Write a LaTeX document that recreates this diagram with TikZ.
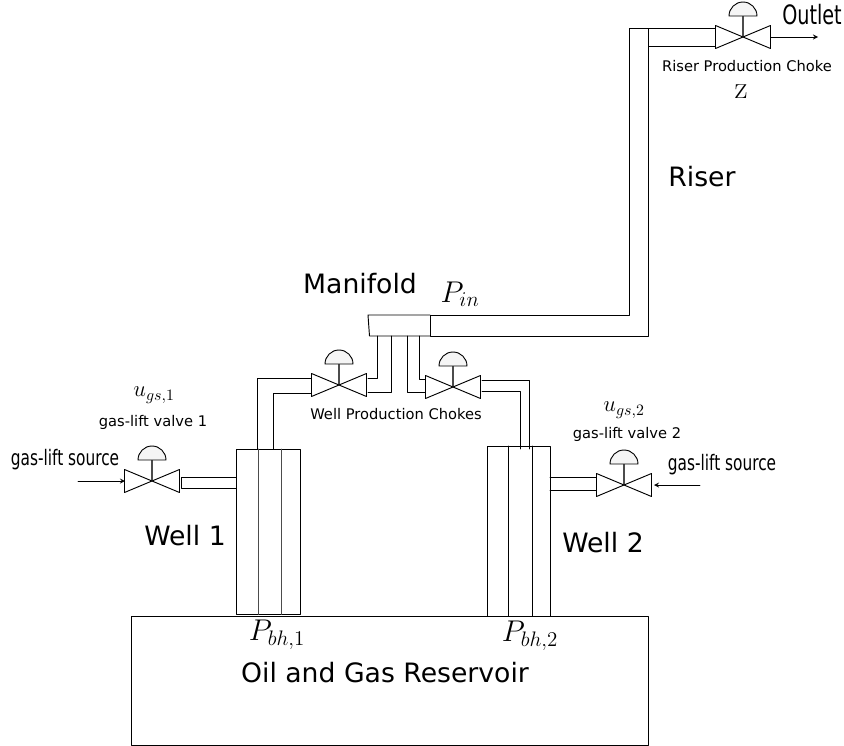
\documentclass[tikz,border=0pt]{standalone}
\usepackage{fix-cm}
\usepackage[no-math]{fontspec}
\setmainfont{DejaVu Sans}
\newfontfamily\narrowfont[FakeStretch=0.72]{DejaVu Sans}
\newcommand{\bigtext}{\fontsize{20}{24}\selectfont}
\newcommand{\midtext}{\narrowfont\fontsize{16}{19}\selectfont}
\newcommand{\smalltext}{\fontsize{11}{13}\selectfont}
\newcommand{\mathbig}{\fontsize{22.5}{27}\selectfont}
\newcommand{\mathmid}{\fontsize{17}{20}\selectfont}
\tikzset{
	pipe/.style={line width=.7pt},
	thinpipe/.style={line width=.65pt},
	dome/.style={line width=.7pt, fill=black!4},
	stem/.style={line width=.8pt, black!70},
	feed/.style={line width=.7pt, ->, >=stealth},
}
\begin{document}
\begin{tikzpicture}[x=.75pt, y=-.75pt, line join=round, line cap=round]
		\useasboundingbox (0,0) rectangle (844,746);
		\def\vw{27.5}
		\def\vh{11.5}
		\def\dr{14}
		\path (629,28) coordinate (RA)
		(648,46) coordinate (RB)
		(648,28) coordinate (RC)
		(715,28) coordinate (RD)
		(715,46) coordinate (RE)
		(629,315) coordinate (RF)
		(648,336) coordinate (RG)
		(368,315) coordinate (MA)
		(430,315) coordinate (MB)
		(430,336) coordinate (MC)
		(369.5,336) coordinate (MD)
		(771,37) coordinate (OA)
		(818,37) coordinate (OB)
		;
		% riser and manifold
		\draw[pipe] (RD)--(RC)--(RB)--(RE);
		\draw[pipe] (RC)--(RA)--(RF)--(MB)--(MC)--(RG)--(RB);
		\draw[pipe] (MB)--(MA)--(MD)--(MC);
		% pipes to the wells
		\draw[pipe] (313,378)-|(257,449);
		\draw[pipe] (313,393)-|(273,449);
		\draw[pipe] (368,378)-|(377,336);
		\draw[pipe] (368,392)-|(391,336);
		\draw[pipe] (427,379)-|(419,336);
		\draw[pipe] (427,392)-|(407,336);
		\draw[pipe] (482,380)-|(529,449);
		\draw[pipe] (482,391)-|(520,449);
		% gas lift pipes
		\draw[pipe] (236,477)--(181,477)--(181,488)--(236,488);
		\draw[pipe] (550,477)--(597,477)--(597,490)--(550,490);
		% wells and reservoir
		\draw[pipe] (131,616) rectangle (648,745);
		\draw[pipe] (236,449) rectangle (300,614.5);
		\draw[pipe] (487,446) rectangle (550,616);
		\foreach \d in {258,281}
		\draw[thinpipe,black!70] (\d,449)--(\d,614.5);
		\foreach \d in {508,532}
		\draw[thinpipe] (\d,446)--(\d,616);
		% valves
		\foreach \x/\y in {743/37,339/385,453/387,152/481,624/485}{
			\draw[stem] (\x,\y)--(\x,\y-21);
			\draw[dome] (\x-\dr,\y-21) arc (-180:0:\dr) --cycle;
			\draw[pipe,fill=white] (\x,\y)--(\x-\vw,\y-\vh)--(\x-\vw,\y+\vh)--cycle;
			\draw[pipe,fill=white] (\x,\y)--(\x+\vw,\y-\vh)--(\x+\vw,\y+\vh)--cycle;
		}
		\draw[feed] (OA)--(OB);
		\draw[feed] (78,481)--(125,481);
		\draw[feed] (700,485)--(654,485);
		% labels
		\path (812,15) node[font=\narrowfont\fontsize{20}{24}\selectfont] (outlet) {Outlet}
		(747,66) node[font=\smalltext] (chokeriser) {Riser Production Choke}
		(741,92) node[font=\fontsize{24}{28}\selectfont] (zlabel) {$\mathrm{z}$}
		(702,177) node[font=\bigtext] (riser) {Riser}
		(360,284) node[font=\bigtext] (manifold) {Manifold}
		(460,294) node[font=\mathbig] (pin) {$P_{in}$}
		(396,414) node[font=\smalltext] (chokewell) {Well Production Chokes}
		(154,395) node[font=\mathmid] (ugs1) {$u_{gs,1}$}
		(153,422) node[font=\smalltext] (valve1) {gas-lift valve 1}
		(65,460) node[font=\midtext] (source1) {gas-lift source}
		(185,536) node[font=\bigtext] (well1) {Well 1}
		(277,635) node[font=\mathbig] (pbh1) {$P_{bh,1}$}
		(624,410) node[font=\mathmid] (ugs2) {$u_{gs,2}$}
		(627,434) node[font=\smalltext] (valve2) {gas-lift valve 2}
		(722,465) node[font=\midtext] (source2) {gas-lift source}
		(603,543) node[font=\bigtext] (well2) {Well 2}
		(530,636) node[font=\mathbig] (pbh2) {$P_{bh,2}$}
		(385,673) node[font=\bigtext] (reservoir) {Oil and Gas Reservoir}
		;
		\end{tikzpicture}
\end{document}
